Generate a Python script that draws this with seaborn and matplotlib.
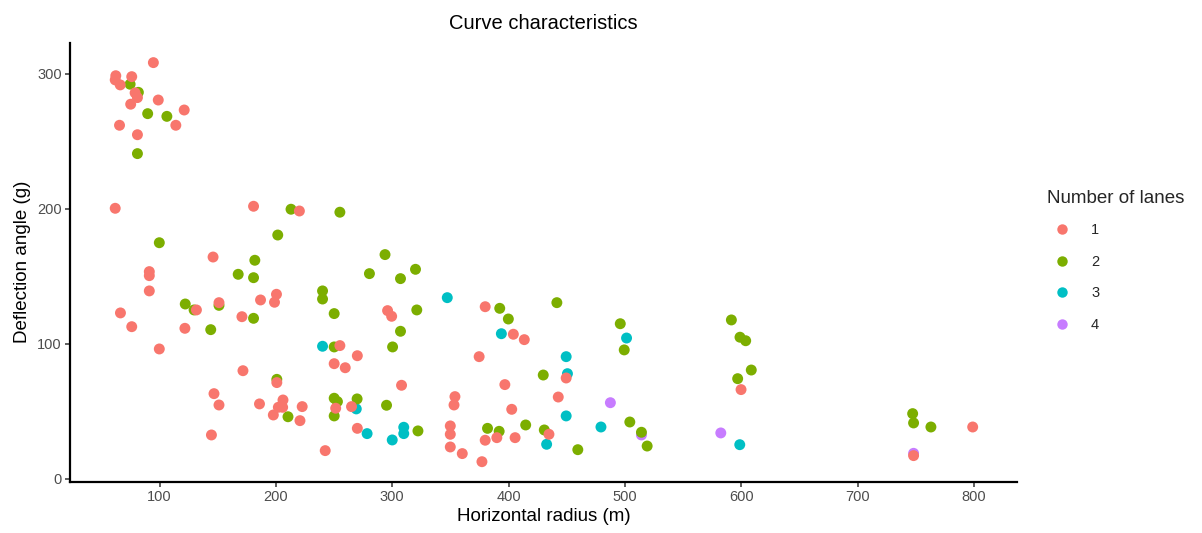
import pandas as pd
import matplotlib
matplotlib.use("Agg")
import matplotlib.pyplot as plt
import seaborn as sns

# ------------------------------------
# Data
# ------------------------------------

radius_1 = [94.7, 62.4, 76.1, 61.9, 66.2, 79, 81, 98.9, 75.2, 121.2, 65.6, 114, 81,
            61.9, 180.8, 220.2, 146, 91.2, 91.2, 91.2, 200.5, 186.8, 198.8, 151.1,
            131.7, 66.4, 170.8, 76.1, 121.8, 99.8, 255, 171.7, 200.8, 146.8, 151.1,
            185.9, 206.1, 202.1, 205.8, 222.6, 197.8, 220.7, 144.6, 242.4, 250.1,
            251.4, 296, 299.5, 379.9, 404.1, 413.5, 374.7, 270, 259.6, 308, 265, 270,
            353.9, 353.1, 349.9, 349.9, 349.9, 360.2, 396.8, 402.7, 379.9, 389.9,
            405.6, 377.1, 449.5, 442.7, 434.7, 599.8, 798.9, 748.1]
angle_1 = [308.4, 298.7, 298, 295.6, 291.9, 286, 282.5, 280.7, 277.6, 273.3, 262, 262, 255,
           200.5, 202, 198.5, 164.4, 153.6, 150.6, 139.3, 136.8, 132.6, 130.9, 130.6,
           125.2, 123, 120.2, 112.8, 111.6, 96.3, 98.8, 80.2, 71.4, 63.2, 54.8,
           55.6, 58.5, 53.1, 53.1, 53.6, 47.4, 43.2, 32.6, 21, 85.4,
           52.4, 124.7, 120.5, 127.6, 107.2, 103.2, 90.6, 91.3, 82.4, 69.4, 53.6, 37.5,
           61, 54.8, 39.3, 33.1, 23.7, 18.8, 69.9, 51.6, 28.7, 30.6,
           30.6, 12.8, 74.8, 60.7, 33.1, 66.2, 38.5, 17.3]

radius_2 = [74.7, 81.8, 89.8, 106.3, 81, 213, 255, 99.8, 201.6, 181.9, 167.6, 180.8,
            240.1, 240.1, 122.1, 151.1, 129.7, 250.1, 180.8, 144, 250.1, 200.8, 210.4,
            250.1, 252.9, 250.1, 293.8, 280.4, 320, 307.1, 392.4, 399.8, 321.1, 307.1,
            300.3, 269.8, 295.1, 322.1, 381.9, 391.9, 414.7, 441.5, 496, 499.4, 591.5,
            598.9, 603.8, 608.6, 596.9, 429.8, 504.2, 514.2, 519.1, 430.7, 459.5,
            747.3, 748.1, 763]
angle_2 = [292.4, 286.4, 270.6, 268.6, 241, 199.8, 197.6, 175, 180.7, 162, 151.6, 149.1,
           139.3, 133.3, 129.6, 128.6, 125.2, 122.5, 119, 110.6, 97.8, 73.8, 46.1,
           59.8, 57.3, 46.7, 166.2, 152.1, 155.3, 148.4, 126.4, 118.5, 125.2, 109.4,
           97.8, 59.3, 54.6, 35.6, 37.5, 35.3, 40, 130.6, 115, 95.6, 117.8,
           105, 102.4, 80.7, 74.3, 77, 42.2, 34.6, 24.4, 36.3, 21.7,
           48.4, 41.5, 38.5]

radius_3 = [240.1, 347.3, 393.8, 269.1, 278.4, 300, 309.9, 309.9, 501.4, 449.5, 450.6,
            449.5, 479.4, 432.7, 598.7]
angle_3 = [98.3, 134.3, 107.6, 51.9, 33.6, 28.9, 38.3, 33.6, 104.4, 90.6, 78,
           46.7, 38.5, 25.7, 25.4]

radius_4 = [487.5, 514.2, 582.4, 748.1]
angle_4 = [56.5, 32.6, 34.1, 19]

lane_labels = ['1', '2', '3', '4']
lane_colors = ['#F8766D', '#7CAE00', '#00BFC4', '#C77CFF']

# build one table, drawing order: 4, 3, 2, 1
df = pd.concat([
    pd.DataFrame({'radius': radius_4, 'angle': angle_4, 'lanes': '4'}),
    pd.DataFrame({'radius': radius_3, 'angle': angle_3, 'lanes': '3'}),
    pd.DataFrame({'radius': radius_2, 'angle': angle_2, 'lanes': '2'}),
    pd.DataFrame({'radius': radius_1, 'angle': angle_1, 'lanes': '1'}),
], ignore_index=True)

# ------------------------------------
# Plot
# ------------------------------------

sns.set_style('ticks')
plt.rcParams['font.family'] = ['Liberation Sans', 'DejaVu Sans']

fig = plt.figure(figsize=(12.02, 5.33), dpi=100)
ax = fig.add_axes([0.0582, 0.0963, 0.7879, 0.8237])

sns.scatterplot(data=df, x='radius', y='angle', hue='lanes',
                hue_order=lane_labels, palette=lane_colors,
                s=62, edgecolor='none', linewidth=0, ax=ax, legend=False)

ax.set_xlim(23, 837)
ax.set_ylim(-2, 323.2)
ax.set_xticks([100, 200, 300, 400, 500, 600, 700, 800])
ax.set_yticks([0, 100, 200, 300])

for side in ['top', 'right']:
    ax.spines[side].set_visible(False)
for side in ['left', 'bottom']:
    ax.spines[side].set_linewidth(1.6)
    ax.spines[side].set_color('black')

ax.tick_params(axis='both', length=3.5, width=1.1, color='#333333',
               labelcolor='#4D4D4D', labelsize=10.5, pad=2.5)

ax.set_xlabel('Horizontal radius (m)', fontsize=13.5, color='black', labelpad=3)
ax.set_ylabel('Deflection angle (g)', fontsize=13.5, color='black', labelpad=4)
ax.set_title('Curve characteristics', fontsize=14.5, color='black', pad=10)

# legend, ggplot style
handles = [plt.Line2D([], [], marker='o', linestyle='', markersize=7.5,
                      markerfacecolor=c, markeredgecolor='none') for c in lane_colors]
leg = fig.legend(handles, lane_labels, title='Number of lanes',
                 loc='upper left', bbox_to_anchor=(0.8665, 0.655),
                 frameon=False, fontsize=10.5, title_fontsize=13.5,
                 labelspacing=1.2, handletextpad=1.0, borderaxespad=0)
leg._legend_box.align = 'left'
leg._legend_box.sep = 12

plt.savefig('out.png', dpi=100)
